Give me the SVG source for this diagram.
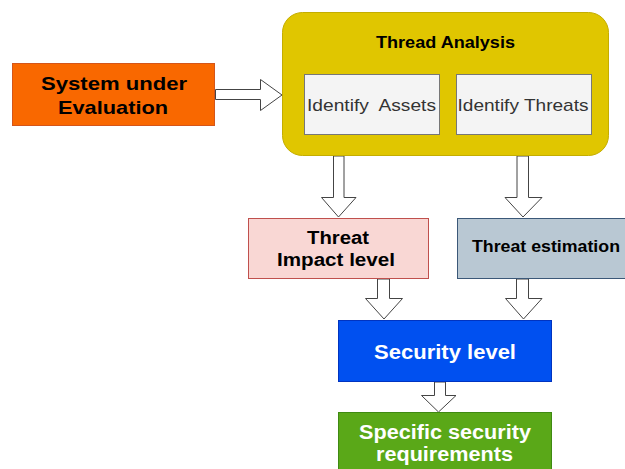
<svg xmlns="http://www.w3.org/2000/svg" width="625" height="469" viewBox="0 0 625 469">
  <style>
    .lbl { font-family: "Liberation Sans", Arial, sans-serif; font-weight: bold; }
    .inner { font-family: "Liberation Sans", Arial, sans-serif; font-size: 17px; fill: #333; white-space: pre; }
    .arrow { fill: #ffffff; stroke: #444; stroke-width: 1; }
  </style>
  <rect width="625" height="469" fill="#ffffff"/>

  <!-- connectors: block arrows -->
  <g id="connectors">
    <path class="arrow" d="M215.5,89.5 H260.5 V79.5 L282,95 L260.5,110.5 V99.5 H215.5 Z"/>
    <path class="arrow" d="M333.5,156 V197.5 H321.5 L338.5,217 L356,197.5 H344 V156 Z"/>
    <path class="arrow" d="M517,156 V197.5 H505 L523,217 L542,197.5 H528.5 V156 Z"/>
    <path class="arrow" d="M377.5,279 V298.5 H365.5 L384,319 L402.5,298.5 H389.5 V279 Z"/>
    <path class="arrow" d="M516.5,279 V298.5 H505.5 L523.5,319 L542,298.5 H528.5 V279 Z"/>
    <path class="arrow" d="M434.5,382 V395.5 H421.5 L438.5,412 L456,395.5 H445.5 V382 Z"/>
  </g>

  <g id="system">
    <rect x="12.5" y="63.5" width="202" height="62" fill="#f96800" stroke="#d4561a"/>
    <text class="lbl" x="41" y="90" font-size="19" textLength="146" lengthAdjust="spacingAndGlyphs">System under</text>
    <text class="lbl" x="58" y="114" font-size="19" textLength="110" lengthAdjust="spacingAndGlyphs">Evaluation</text>
  </g>

  <g id="thread-analysis">
    <rect x="282.5" y="12.5" width="326" height="143" rx="20" fill="#e0c600" stroke="#c4ad00"/>
    <text class="lbl" x="376" y="48" font-size="17" textLength="139" lengthAdjust="spacingAndGlyphs">Thread Analysis</text>
  </g>

  <g id="identify-assets">
    <rect x="304.5" y="74.5" width="135" height="60" fill="#f4f4f4" stroke="#777"/>
    <text class="inner" x="307" y="111" textLength="129" lengthAdjust="spacingAndGlyphs" xml:space="preserve">Identify  Assets</text>
  </g>

  <g id="identify-threats">
    <rect x="456.5" y="74.5" width="135" height="60" fill="#f4f4f4" stroke="#777"/>
    <text class="inner" x="457.5" y="111" textLength="131" lengthAdjust="spacingAndGlyphs">Identify Threats</text>
  </g>

  <g id="impact-level">
    <rect x="248.5" y="218.5" width="180" height="60" fill="#f9d7d4" stroke="#c0504d"/>
    <text class="lbl" x="307" y="244" font-size="17.5" textLength="62" lengthAdjust="spacingAndGlyphs">Threat</text>
    <text class="lbl" x="277" y="266" font-size="17.5" textLength="118" lengthAdjust="spacingAndGlyphs">Impact level</text>
  </g>

  <g id="threat-estimation">
    <rect x="457.5" y="218.5" width="170" height="60" fill="#b9c8d3" stroke="#3b5878"/>
    <text class="lbl" x="472" y="252" font-size="16.5" textLength="148" lengthAdjust="spacingAndGlyphs">Threat estimation</text>
  </g>

  <g id="security-level">
    <rect x="338.5" y="320.5" width="213" height="61" fill="#0050f0" stroke="#0033c0"/>
    <text class="lbl" x="374" y="359" font-size="19.5" fill="#ffffff" textLength="142" lengthAdjust="spacingAndGlyphs">Security level</text>
  </g>

  <g id="requirements">
    <rect x="338.5" y="412.5" width="213" height="62" fill="#5aa818" stroke="#3f8a12"/>
    <text class="lbl" x="359" y="439" font-size="19.5" fill="#ffffff" textLength="172" lengthAdjust="spacingAndGlyphs">Specific security</text>
    <text class="lbl" x="376" y="461" font-size="19.5" fill="#ffffff" textLength="137" lengthAdjust="spacingAndGlyphs">requirements</text>
  </g>
</svg>
